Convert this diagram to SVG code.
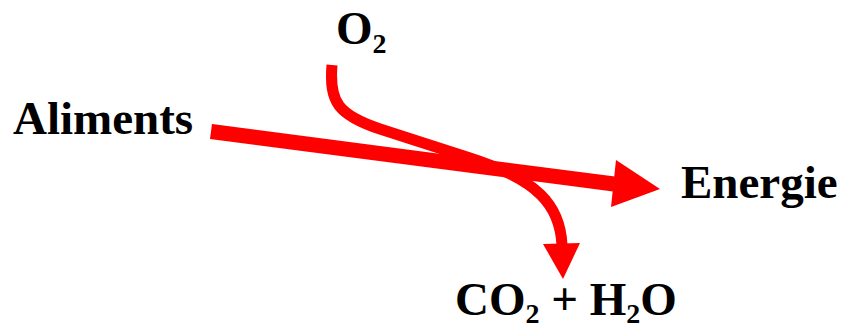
<svg xmlns="http://www.w3.org/2000/svg" width="843" height="328" viewBox="0 0 843 328">
<style>
text{font-family:"Liberation Serif","Times New Roman",serif;font-weight:bold;fill:#000;font-size:47px}
.sub{font-size:28px}
.flow{fill:none;stroke:#ff0000}
.head{fill:#ff0000}
</style>
<rect width="843" height="328" fill="#fff"/>
<g id="connectors">
<path class="flow" d="M332,65 C329,102 338,115 380,129 L470,158 C538,180 560,205 562,245" stroke-width="11"/>
<polygon class="head" points="543,244 580,243 563,279"/>
<path class="flow" d="M211,131.5 L614,184" stroke-width="15"/>
<polygon class="head" points="616,160 660,189 611,207"/>
</g>
<g id="aliments"><text x="13" y="134">Aliments</text></g>
<g id="o2"><text x="336" y="44">O<tspan class="sub" dy="9">2</tspan></text></g>
<g id="energie"><text x="681" y="198">Energie</text></g>
<g id="co2h2o"><text x="455" y="315">CO<tspan class="sub" dy="8">2</tspan><tspan dy="-8"> + H</tspan><tspan class="sub" dy="8">2</tspan><tspan dy="-8">O</tspan></text></g>
</svg>
